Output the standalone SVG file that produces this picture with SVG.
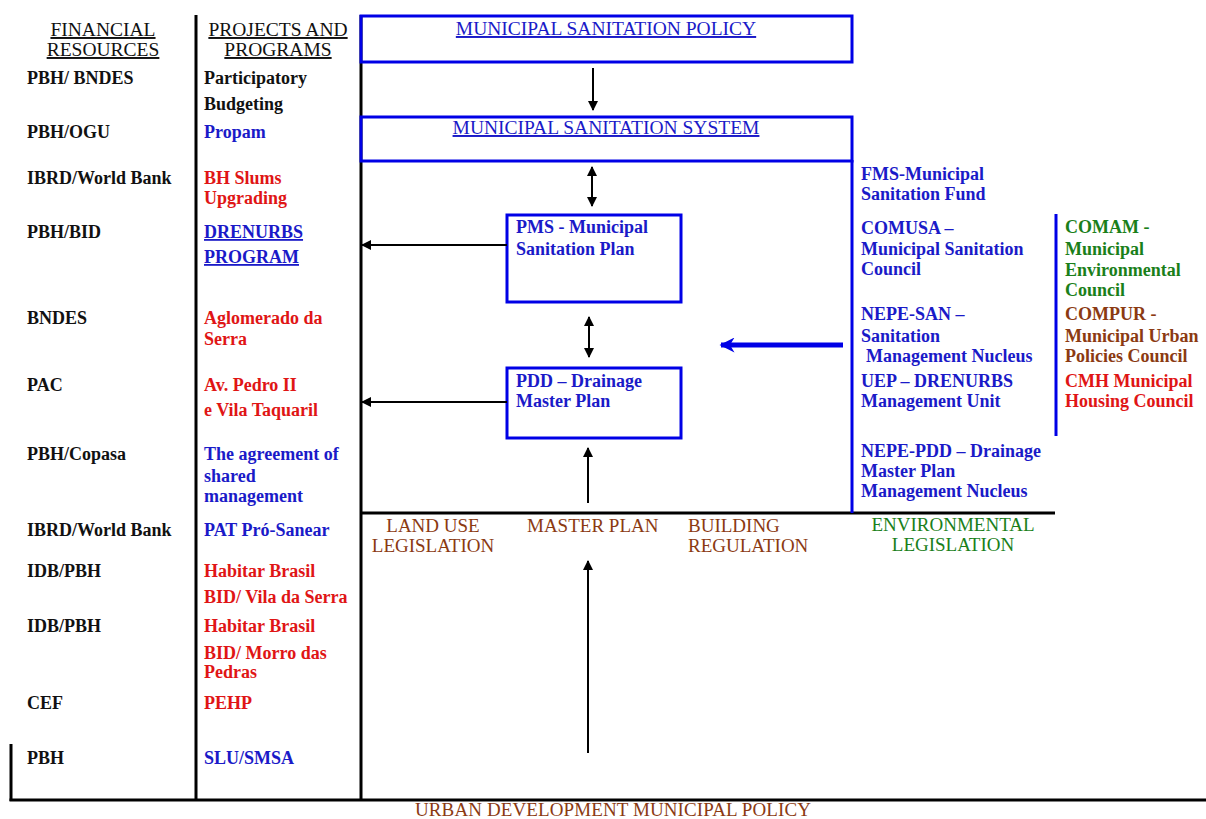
<svg xmlns="http://www.w3.org/2000/svg" width="1206" height="819" viewBox="0 0 1206 819">
<defs>
<style>
text{font-family:"Liberation Serif","Times New Roman",serif;font-size:18px;font-weight:bold;}
.hd{font-weight:normal;font-size:19.5px;text-decoration:underline;}
.k{fill:#111;}
.b{fill:#1a1ac8;}
.r{fill:#e01515;}
.g{fill:#1a7f1a;}
.br{fill:#8b3a12;}
.lbl{font-weight:normal;font-size:19px;}
.u{text-decoration:underline;}
.kl{stroke:#000;stroke-width:3;fill:none;}
.bl{stroke:#0000e6;stroke-width:3;fill:none;}
.ar{stroke:#000;stroke-width:2;fill:none;}
</style>
<marker id="ah" viewBox="0 0 10 10" refX="9" refY="5" markerWidth="5" markerHeight="5" orient="auto-start-reverse" markerUnits="strokeWidth">
<path d="M0,0 L10,5 L0,10 Z" fill="#000"/>
</marker>
<marker id="bah" viewBox="0 0 10 10" refX="9" refY="5" markerWidth="3.2" markerHeight="3" orient="auto" markerUnits="strokeWidth">
<path d="M0,0 L10,5 L0,10 L3,5 Z" fill="#0000e6"/>
</marker>
</defs>
<rect width="1206" height="819" fill="#fff"/>

<g id="frame">
<line class="kl" x1="196" y1="15" x2="196" y2="801"/>
<line class="kl" x1="361" y1="15" x2="361" y2="801"/>
<line class="kl" x1="11" y1="744" x2="11" y2="801"/>
<line class="kl" x1="9.5" y1="800" x2="1206" y2="800"/>
<line class="kl" x1="361" y1="513" x2="1055" y2="513"/>
<line class="bl" x1="852" y1="160" x2="852" y2="513"/>
<line class="bl" x1="1056" y1="214" x2="1056" y2="436"/>
</g>

<g id="col-financial">
<text class="hd k" x="103" y="36" text-anchor="middle">FINANCIAL</text>
<text class="hd k" x="103" y="56" text-anchor="middle">RESOURCES</text>
<text class="k" x="27" y="84">PBH/ BNDES</text>
<text class="k" x="27" y="138">PBH/OGU</text>
<text class="k" x="27" y="184">IBRD/World Bank</text>
<text class="k" x="27" y="238">PBH/BID</text>
<text class="k" x="27" y="324">BNDES</text>
<text class="k" x="27" y="391">PAC</text>
<text class="k" x="27" y="460">PBH/Copasa</text>
<text class="k" x="27" y="536">IBRD/World Bank</text>
<text class="k" x="27" y="577">IDB/PBH</text>
<text class="k" x="27" y="632">IDB/PBH</text>
<text class="k" x="27" y="709">CEF</text>
<text class="k" x="27" y="764">PBH</text>
</g>

<g id="col-projects">
<text class="hd k" x="278" y="36" text-anchor="middle">PROJECTS AND</text>
<text class="hd k" x="278" y="56" text-anchor="middle">PROGRAMS</text>
<text class="k" x="204" y="84">Participatory</text>
<text class="k" x="204" y="110">Budgeting</text>
<text class="b" x="204" y="138">Propam</text>
<text class="r" x="204" y="184">BH Slums</text>
<text class="r" x="204" y="204">Upgrading</text>
<text class="b u" x="204" y="238">DRENURBS</text>
<text class="b u" x="204" y="263">PROGRAM</text>
<text class="r" x="204" y="324">Aglomerado da</text>
<text class="r" x="204" y="345">Serra</text>
<text class="r" x="204" y="391">Av. Pedro II</text>
<text class="r" x="204" y="416">e Vila Taquaril</text>
<text class="b" x="204" y="460">The agreement of</text>
<text class="b" x="204" y="482">shared</text>
<text class="b" x="204" y="502">management</text>
<text class="b" x="204" y="536">PAT Pró-Sanear</text>
<text class="r" x="204" y="577">Habitar Brasil</text>
<text class="r" x="204" y="603">BID/ Vila da Serra</text>
<text class="r" x="204" y="632">Habitar Brasil</text>
<text class="r" x="204" y="659">BID/ Morro das</text>
<text class="r" x="204" y="678">Pedras</text>
<text class="r" x="204" y="709">PEHP</text>
<text class="b" x="204" y="764">SLU/SMSA</text>
</g>

<g id="policy">
<rect class="bl" x="361" y="16" width="491" height="46"/>
<text class="hd b" x="606" y="35" text-anchor="middle">MUNICIPAL SANITATION POLICY</text>
</g>

<g id="system">
<rect class="bl" x="361" y="117" width="491" height="44"/>
<text class="hd b" x="606" y="134" text-anchor="middle">MUNICIPAL SANITATION SYSTEM</text>
</g>

<g id="pms">
<rect class="bl" x="507" y="215" width="174" height="87"/>
<text class="b" x="516" y="233">PMS - Municipal</text>
<text class="b" x="516" y="255">Sanitation Plan</text>
</g>

<g id="pdd">
<rect class="bl" x="507" y="368" width="174" height="70"/>
<text class="b" x="516" y="387">PDD – Drainage</text>
<text class="b" x="516" y="407">Master Plan</text>
</g>

<g id="bodies">
<text class="b" x="861" y="180">FMS-Municipal</text>
<text class="b" x="861" y="200">Sanitation Fund</text>
<text class="b" x="861" y="234">COMUSA –</text>
<text class="b" x="861" y="255">Municipal Sanitation</text>
<text class="b" x="861" y="275">Council</text>
<text class="b" x="861" y="320">NEPE-SAN –</text>
<text class="b" x="861" y="342">Sanitation</text>
<text class="b" x="866" y="362">Management Nucleus</text>
<text class="b" x="861" y="387">UEP – DRENURBS</text>
<text class="b" x="861" y="407">Management Unit</text>
<text class="b" x="861" y="457">NEPE-PDD – Drainage</text>
<text class="b" x="861" y="477">Master Plan</text>
<text class="b" x="861" y="497">Management Nucleus</text>
</g>

<g id="councils">
<text class="g" x="1065" y="233">COMAM -</text>
<text class="g" x="1065" y="255">Municipal</text>
<text class="g" x="1065" y="276">Environmental</text>
<text class="g" x="1065" y="296">Council</text>
<text class="br" x="1065" y="320">COMPUR -</text>
<text class="br" x="1065" y="342">Municipal Urban</text>
<text class="br" x="1065" y="362">Policies Council</text>
<text class="r" x="1065" y="387">CMH Municipal</text>
<text class="r" x="1065" y="407">Housing Council</text>
</g>

<g id="legislation">
<text class="lbl br" x="433" y="532" text-anchor="middle">LAND USE</text>
<text class="lbl br" x="433" y="552" text-anchor="middle">LEGISLATION</text>
<text class="lbl br" x="527" y="532">MASTER PLAN</text>
<text class="lbl br" x="688" y="532">BUILDING</text>
<text class="lbl br" x="688" y="552">REGULATION</text>
<text class="lbl g" x="953" y="531" text-anchor="middle">ENVIRONMENTAL</text>
<text class="lbl g" x="953" y="551" text-anchor="middle">LEGISLATION</text>
<text class="lbl br" x="415" y="816" textLength="396" lengthAdjust="spacing">URBAN DEVELOPMENT MUNICIPAL POLICY</text>
</g>

<g id="connectors">
<line class="ar" x1="593" y1="68" x2="593" y2="110" marker-end="url(#ah)"/>
<line class="ar" x1="592" y1="167" x2="592" y2="206" marker-start="url(#ah)" marker-end="url(#ah)"/>
<line class="ar" x1="507" y1="245" x2="362" y2="245" marker-end="url(#ah)"/>
<line class="ar" x1="589" y1="317" x2="589" y2="357" marker-start="url(#ah)" marker-end="url(#ah)"/>
<line class="ar" x1="507" y1="402" x2="362" y2="402" marker-end="url(#ah)"/>
<line class="ar" x1="588" y1="503" x2="588" y2="448" marker-end="url(#ah)"/>
<line class="ar" x1="588" y1="753" x2="588" y2="561" marker-end="url(#ah)"/>
<line x1="843" y1="345" x2="721" y2="345" stroke="#0000e6" stroke-width="5" marker-end="url(#bah)"/>
</g>
</svg>
